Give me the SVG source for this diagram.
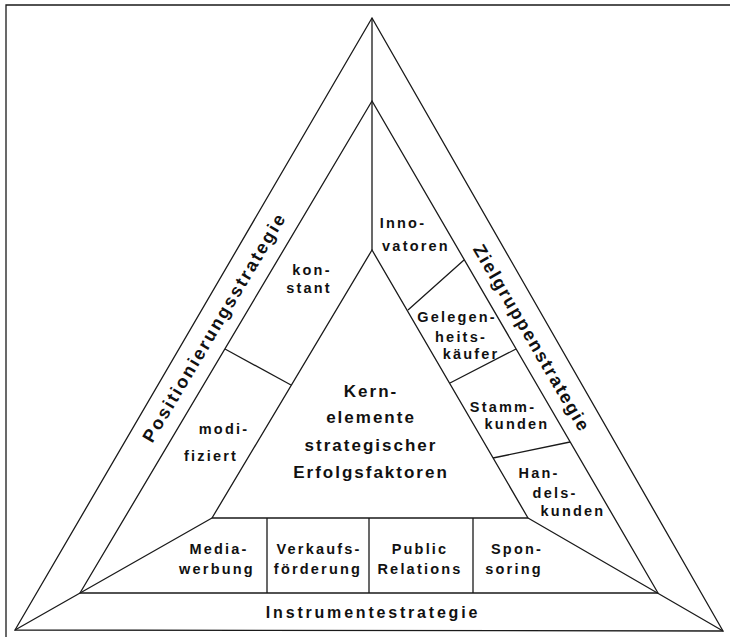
<svg xmlns="http://www.w3.org/2000/svg" width="730" height="637" viewBox="0 0 730 637">
<style>
.ln{stroke:#1a1a1a;stroke-width:1.3;fill:none;stroke-linejoin:miter}
text{font-family:"Liberation Sans",Arial,sans-serif;font-weight:bold;fill:#111;text-anchor:middle}
.s{font-size:14.5px;letter-spacing:2.2px}
.c{font-size:17px;letter-spacing:2px}
.t{font-size:18px;letter-spacing:2.2px}
.b{font-size:16px;letter-spacing:2.8px}
</style>
<rect x="0" y="0" width="730" height="637" fill="#ffffff"/>
<g id="connectors">
<path class="ln" d="M6,637 L6,5 L730,5"/>
<path class="ln" d="M372,18 L15,630 L723,631 Z"/>
<path class="ln" d="M372,101 L80,593 L658,593 Z"/>
<path class="ln" d="M372,250 L212,518 L528,518 Z"/>
<path class="ln" d="M372,18 L372,250 M15,630 L212,518 M723,631 L528,518"/>
<path class="ln" d="M225,349 L291,385"/>
<path class="ln" d="M408,310 L464,260 M450,383 L516,349 M493,458 L570,442"/>
<path class="ln" d="M267,518 L267,593 M369,518 L369,593 M473,518 L473,593"/>
</g>
<g id="kern">
<text class="c" x="371" y="397">Kern-</text>
<text class="c" x="371" y="423">elemente</text>
<text class="c" x="371" y="451">strategischer</text>
<text class="c" x="371" y="478">Erfolgsfaktoren</text>
</g>
<g id="positionierung">
<text class="t" transform="translate(214,327) rotate(-59.3)" y="6.5">Positionierungsstrategie</text>
</g>
<g id="zielgruppen">
<text class="t" transform="translate(532,338) rotate(59.7)" y="6.5" style="letter-spacing:1.8px">Zielgruppenstrategie</text>
</g>
<g id="instrumente">
<text class="b" x="373" y="618">Instrumentestrategie</text>
</g>
<g id="konstant">
<text class="s" x="312" y="275">kon-</text>
<text class="s" x="309" y="293">stant</text>
</g>
<g id="modifiziert">
<text class="s" x="224" y="434">modi-</text>
<text class="s" x="211" y="461">fiziert</text>
</g>
<g id="innovatoren">
<text class="s" x="403" y="228">Inno-</text>
<text class="s" x="416" y="251">vatoren</text>
</g>
<g id="gelegenheitskaeufer">
<text class="s" x="457" y="322">Gelegen-</text>
<text class="s" x="461" y="342">heits-</text>
<text class="s" x="471" y="359">käufer</text>
</g>
<g id="stammkunden">
<text class="s" x="503" y="412">Stamm-</text>
<text class="s" x="517" y="429">kunden</text>
</g>
<g id="handelskunden">
<text class="s" x="539" y="478">Han-</text>
<text class="s" x="555" y="498">dels-</text>
<text class="s" x="573" y="516">kunden</text>
</g>
<g id="mediawerbung">
<text class="s" x="219" y="554">Media-</text>
<text class="s" x="217" y="574">werbung</text>
</g>
<g id="verkaufsfoerderung">
<text class="s" x="319" y="554">Verkaufs-</text>
<text class="s" x="318" y="574">förderung</text>
</g>
<g id="publicrelations">
<text class="s" x="420" y="554">Public</text>
<text class="s" x="420" y="574">Relations</text>
</g>
<g id="sponsoring">
<text class="s" x="517" y="554">Spon-</text>
<text class="s" x="514" y="574">soring</text>
</g>
</svg>
